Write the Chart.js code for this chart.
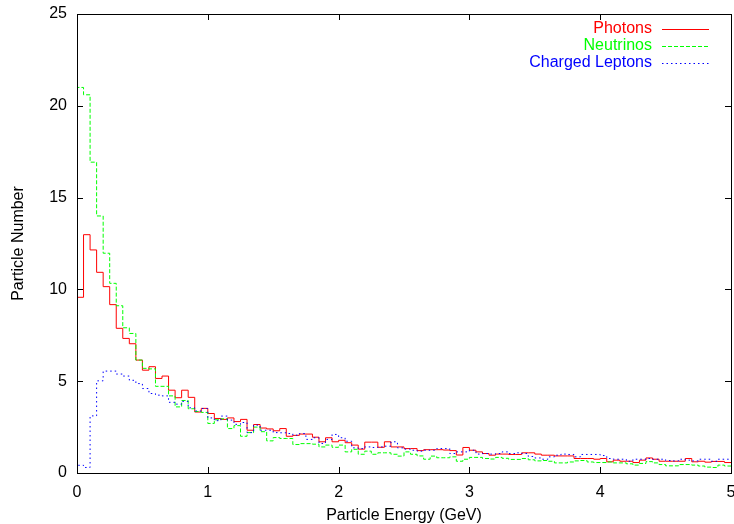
<!DOCTYPE html>
<html>
<head>
<meta charset="utf-8">
<script src="https://cdn.jsdelivr.net/npm/chart.js@4/dist/chart.umd.min.js"></script>
<style>
  html, body { margin: 0; padding: 0; background: #fff; }
</style>
</head>
<body>
<canvas id="myChart" width="734" height="524"></canvas>
<script>
// histogram bins, 0.05 GeV wide, from 0 to 5 GeV
const binWidth = 0.05;

const photons = [
    9.57, 12.98, 12.15, 10.93, 10.15, 9.17, 7.88, 7.33, 7.04, 6.15,
    5.6, 5.79, 5.15, 5.28, 4.51, 4.1, 4.51, 4.12, 3.32, 3.52,
    3.24, 2.97, 2.92, 3.0, 2.8, 2.92, 2.33, 2.64, 2.45, 2.4,
    2.3, 2.42, 2.0, 2.05, 2.12, 2.12, 1.95, 1.7, 1.92, 1.7,
    1.78, 1.65, 1.52, 1.3, 1.68, 1.68, 1.4, 1.7, 1.42, 1.42,
    1.33, 1.33, 1.22, 1.27, 1.27, 1.27, 1.25, 1.22, 0.98, 1.39,
    1.24, 1.15, 1.06, 0.97, 1.03, 1.03, 1.01, 1.01, 1.10, 1.10,
    1.03, 0.97, 0.97, 0.93, 0.93, 0.93, 0.79, 0.79, 0.79, 0.75,
    0.79, 0.61, 0.70, 0.64, 0.64, 0.57, 0.70, 0.82, 0.75, 0.64,
    0.64, 0.64, 0.64, 0.79, 0.61, 0.64, 0.59, 0.63, 0.63, 0.57
];

const neutrinos = [
    21.0, 20.6, 16.93, 14.0, 11.97, 10.33, 9.11, 7.91, 7.6, 6.15,
    5.7, 5.67, 4.72, 4.72, 4.2, 3.6, 3.95, 3.5, 3.35, 3.3,
    2.7, 2.9, 2.95, 2.42, 2.58, 2.0, 2.2, 2.5, 2.25, 1.75,
    1.93, 1.88, 1.88, 1.55, 1.6, 1.6, 1.57, 1.42, 1.52, 1.4,
    1.52, 1.15, 1.29, 1.02, 1.19, 1.02, 1.1, 1.1, 1.02, 0.92,
    1.15, 1.02, 0.93, 0.75, 0.92, 0.83, 0.83, 0.88, 0.64, 0.75,
    0.85, 0.85, 0.79, 0.76, 0.85, 0.80, 0.74, 0.74, 0.79, 0.72,
    0.66, 0.68, 0.64, 0.55, 0.55, 0.60, 0.66, 0.68, 0.60, 0.57,
    0.57, 0.60, 0.55, 0.55, 0.50, 0.43, 0.52, 0.62, 0.55, 0.46,
    0.39, 0.39, 0.46, 0.46, 0.43, 0.38, 0.32, 0.30, 0.43, 0.38
];

const leptons = [
    0.42, 0.3, 3.11, 5.02, 5.55, 5.55, 5.39, 5.28, 5.05, 4.87,
    4.6, 4.33, 4.24, 4.2, 3.85, 3.75, 3.9, 3.55, 3.38, 3.51,
    3.0, 2.85, 3.1, 2.88, 2.65, 2.75, 2.2, 2.61, 2.33, 2.33,
    2.2, 2.19, 2.15, 2.06, 2.15, 1.83, 1.92, 1.61, 1.83, 2.1,
    1.92, 1.73, 1.37, 1.33, 1.42, 1.39, 1.42, 1.46, 1.70, 1.37,
    1.30, 1.24, 1.19, 1.24, 1.24, 1.33, 1.33, 1.06, 1.15, 1.15,
    1.24, 1.03, 1.06, 1.03, 1.06, 1.15, 1.06, 1.10, 1.06, 0.90,
    0.82, 0.75, 0.88, 0.97, 1.03, 1.01, 0.88, 1.01, 1.01, 1.01,
    0.95, 0.79, 0.75, 0.75, 0.64, 0.75, 0.75, 0.79, 0.75, 0.75,
    0.68, 0.66, 0.75, 0.70, 0.66, 0.75, 0.75, 0.64, 0.75, 0.75
];

const xTicks = [0, 1, 2, 3, 4, 5];
const yTicks = [0, 5, 10, 15, 20, 25];

const FONT = "Liberation Sans, Arial, Helvetica, sans-serif";
const FONT_SIZE = 16;

// points on the left bin edges; 'before' keeps the old value up to the next edge
const stepPoints = (values) => {
    const pts = [{ x: 0, y: 0 }];
    values.forEach((v, i) => pts.push({ x: i * binWidth, y: v }));
    pts.push({ x: values.length * binWidth, y: values[values.length - 1] });
    return pts;
};

const series = [
    { label: "Photons", data: photons, color: "#ff0000", dash: [] },
    { label: "Neutrinos", data: neutrinos, color: "#00ff00", dash: [4, 2] },
    { label: "Charged Leptons", data: leptons, color: "#0000ff", dash: [1.5, 3] }
];

// gnuplot style frame with inward ticks on all four sides
const framePlugin = {
    id: "frame",
    afterDatasetsDraw(chart) {
        const { ctx, chartArea: a, scales } = chart;
        const tick = 6;
        ctx.save();
        ctx.strokeStyle = "#000";
        ctx.lineWidth = 1;
        ctx.beginPath();
        xTicks.forEach((t) => {
            const px = Math.round(scales.x.getPixelForValue(t)) + 0.5;
            ctx.moveTo(px, a.bottom);
            ctx.lineTo(px, a.bottom - tick);
            ctx.moveTo(px, a.top);
            ctx.lineTo(px, a.top + tick);
        });
        yTicks.forEach((t) => {
            const py = Math.round(scales.y.getPixelForValue(t)) + 0.5;
            ctx.moveTo(a.left, py);
            ctx.lineTo(a.left + tick, py);
            ctx.moveTo(a.right, py);
            ctx.lineTo(a.right - tick, py);
        });
        ctx.stroke();
        ctx.strokeRect(Math.round(a.left) + 0.5, Math.round(a.top) + 0.5,
            Math.round(a.right - a.left), Math.round(a.bottom - a.top));
        ctx.restore();
    }
};

// key in the top right corner: text right aligned, sample line after it
const keyPlugin = {
    id: "key",
    afterDraw(chart) {
        const { ctx, chartArea: a } = chart;
        const textRight = a.right - 79;
        const lineStart = a.right - 69;
        const lineEnd = a.right - 22;
        let y = a.top + 15;
        ctx.save();
        ctx.font = FONT_SIZE + "px " + FONT;
        ctx.textAlign = "right";
        ctx.textBaseline = "middle";
        series.forEach((s) => {
            ctx.fillStyle = s.color;
            ctx.fillText(s.label, textRight, y);
            ctx.strokeStyle = s.color;
            ctx.lineWidth = 1;
            ctx.setLineDash(s.dash);
            ctx.beginPath();
            ctx.moveTo(lineStart, y + 0.5);
            ctx.lineTo(lineEnd, y + 0.5);
            ctx.stroke();
            y += 17;
        });
        ctx.restore();
    }
};

const ctx = document.getElementById("myChart").getContext("2d");
const myChart = new Chart(ctx, {
    type: "line",
    data: {
        datasets: series.map((s, i) => ({
            label: s.label,
            data: stepPoints(s.data),
            stepped: "before",
            borderColor: s.color,
            borderWidth: 1,
            borderDash: s.dash,
            pointRadius: 0,
            fill: false,
            order: series.length - i
        }))
    },
    options: {
        responsive: false,
        animation: false,
        devicePixelRatio: 1,
        layout: { padding: { top: 14, right: 3, left: 0, bottom: 0 } },
        plugins: {
            legend: { display: false },
            tooltip: { enabled: false }
        },
        scales: {
            x: {
                type: "linear",
                min: 0,
                max: 5,
                grid: { display: false, drawTicks: false },
                border: { display: false },
                ticks: {
                    stepSize: 1,
                    padding: 10,
                    color: "#000",
                    font: { family: FONT, size: FONT_SIZE }
                },
                title: {
                    display: true,
                    text: "Particle Energy (GeV)",
                    color: "#000",
                    padding: { top: 0, bottom: 0 },
                    font: { family: FONT, size: FONT_SIZE, lineHeight: 1.05 }
                },
                afterFit(scale) {
                    scale.height = 51;
                    scale.paddingLeft = 0;
                    scale.paddingRight = 0;
                }
            },
            y: {
                min: 0,
                max: 25,
                grid: { display: false, drawTicks: false },
                border: { display: false },
                ticks: {
                    stepSize: 5,
                    padding: 10,
                    color: "#000",
                    font: { family: FONT, size: FONT_SIZE }
                },
                title: {
                    display: true,
                    text: "Particle Number",
                    color: "#000",
                    padding: { top: 9, bottom: 0 },
                    font: { family: FONT, size: FONT_SIZE }
                },
                afterFit(scale) {
                    scale.width = 77;
                    scale.paddingTop = 0;
                    scale.paddingBottom = 0;
                }
            }
        }
    },
    plugins: [framePlugin, keyPlugin]
});
</script>
</body>
</html>
